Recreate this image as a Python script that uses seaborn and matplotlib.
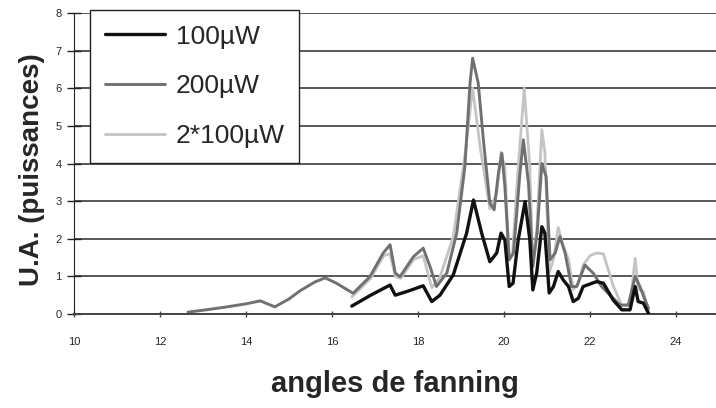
import matplotlib
matplotlib.use("Agg")
import matplotlib.pyplot as plt
import seaborn as sns
import pandas as pd

sns.set_style("white")
plt.rcParams["font.family"] = ["Liberation Sans", "DejaVu Sans"]

# ! 100µW
x_100 = [16.46, 16.9, 17.35, 17.47, 17.8, 18.12, 18.32, 18.51, 18.82, 19.13, 19.29,
         19.48, 19.67, 19.83, 19.93, 20.02, 20.12, 20.21, 20.33, 20.49, 20.6, 20.67,
         20.76, 20.88, 20.95, 21.05, 21.15, 21.26, 21.38, 21.5, 21.61, 21.73, 21.84,
         22.15, 22.31, 22.54, 22.74, 22.93, 23.05, 23.12, 23.24, 23.36]
y_100 = [0.21, 0.5, 0.77, 0.5, 0.62, 0.75, 0.33, 0.5, 1.04, 2.15, 3.03,
         2.15, 1.39, 1.62, 2.15, 1.97, 0.73, 0.82, 1.97, 2.99, 1.97, 0.64,
         1.09, 2.32, 2.15, 0.56, 0.73, 1.13, 0.9, 0.73, 0.33, 0.42, 0.73,
         0.86, 0.82, 0.37, 0.11, 0.11, 0.73, 0.33, 0.29, 0.02]

# ! 200µW
x_200 = [12.65, 13.0, 13.5, 14.0, 14.33, 14.67, 15.0, 15.26, 15.6, 15.84, 16.1,
         16.49, 16.88, 17.19, 17.35, 17.47, 17.58, 17.89, 18.12, 18.28, 18.43, 18.67,
         18.9, 19.09, 19.21, 19.27, 19.4, 19.52, 19.67, 19.77, 19.87, 19.95, 20.02,
         20.12, 20.22, 20.37, 20.45, 20.57, 20.67, 20.77, 20.88, 20.98, 21.07, 21.19,
         21.3, 21.42, 21.57, 21.69, 21.88, 22.08, 22.27, 22.5, 22.7, 22.89, 23.05,
         23.16, 23.28, 23.36]
y_200 = [0.05, 0.1, 0.18, 0.27, 0.35, 0.19, 0.4, 0.62, 0.85, 0.96, 0.82,
         0.55, 0.99, 1.62, 1.84, 1.09, 0.99, 1.52, 1.75, 1.26, 0.73, 1.09,
         2.15, 3.92, 6.14, 6.8, 6.14, 4.63, 2.95, 2.77, 3.74, 4.27, 3.39,
         1.44, 1.62, 3.74, 4.63, 3.47, 1.26, 2.15, 4.0, 3.65, 1.44, 1.62,
         2.06, 1.62, 0.73, 0.73, 1.3, 1.08, 0.73, 0.46, 0.24, 0.24, 1.0,
         0.73, 0.37, 0.15]

# ! 2*100µW
x_2x100 = [16.46, 16.9, 17.2, 17.35, 17.47, 17.6, 17.9, 18.12, 18.32, 18.5, 18.82,
           19.1, 19.27, 19.45, 19.67, 19.83, 19.93, 20.02, 20.12, 20.2, 20.33, 20.47,
           20.6, 20.67, 20.76, 20.88, 20.95, 21.05, 21.15, 21.26, 21.38, 21.5, 21.61,
           21.73, 21.84, 22.0, 22.15, 22.31, 22.54, 22.74, 22.93, 23.05, 23.12, 23.24,
           23.36]
y_2x100 = [0.45, 0.95, 1.55, 1.6, 1.0, 0.95, 1.45, 1.55, 0.7, 0.95, 2.05,
           4.3, 6.0, 4.4, 2.8, 3.2, 4.3, 3.9, 1.45, 1.65, 3.9, 6.0,
           3.9, 1.3, 2.2, 4.9, 4.3, 1.1, 1.45, 2.3, 1.8, 1.45, 0.65,
           0.8, 1.3, 1.55, 1.62, 1.6, 0.75, 0.22, 0.22, 1.48, 0.66, 0.6,
           0.1]

labels = ["100µW", "200µW", "2*100µW"]
colors = ["#111111", "#707070", "#c4c4c4"]

df = pd.concat([
    pd.DataFrame({"angle": x_100, "ua": y_100, "serie": labels[0]}),
    pd.DataFrame({"angle": x_200, "ua": y_200, "serie": labels[1]}),
    pd.DataFrame({"angle": x_2x100, "ua": y_2x100, "serie": labels[2]}),
])

fig = plt.figure(figsize=(7.16, 4.08), dpi=100)
ax = fig.add_axes([0.1034, 0.2304, 0.8966, 0.7377])

# draw light series first so the darker lines stay on top
for lab, col, z, lw in zip(labels, colors, [3, 2, 1], [2.4, 2.1, 2.0]):
    sns.lineplot(data=df[df.serie == lab], x="angle", y="ua", color=col,
                 linewidth=lw, estimator=None, sort=False, ax=ax, zorder=z,
                 label=lab)

ax.set_xlim(10, 24.93)
ax.set_ylim(0, 8)
ax.set_xticks(range(10, 25, 2))
ax.set_yticks(range(0, 9))
ax.grid(axis="y", color="#2a2a2a", linewidth=1.1)
ax.grid(axis="x", visible=False)
for s in ["top", "right"]:
    ax.spines[s].set_visible(False)
ax.spines["left"].set_color("#222222")
ax.spines["bottom"].set_color("#444444")
ax.spines["bottom"].set_linewidth(1.4)

ax.tick_params(axis="y", direction="inout", length=10, width=1, labelsize=8,
               pad=4, color="#222222", left=True)
ax.tick_params(axis="x", direction="inout", length=5, width=1, labelsize=8,
               pad=14, color="#444444", bottom=True)

ax.set_xlabel("angles de fanning", fontsize=21, fontweight="bold")
ax.set_ylabel("U.A. (puissances)", fontsize=20, fontweight="bold")
ax.xaxis.set_label_coords(0.5, -0.185)
ax.yaxis.set_label_coords(-0.045, 0.48)

leg = ax.legend(loc="upper left", bbox_to_anchor=(0.025, 1.01), borderaxespad=0,
                fontsize=19, frameon=True, fancybox=False, framealpha=1,
                edgecolor="#222222", handlelength=2.3, labelspacing=0.98,
                borderpad=0.55, handletextpad=0.4)
leg.get_frame().set_linewidth(1.0)
leg.set_zorder(5)

plt.savefig("out.png", dpi=100)
